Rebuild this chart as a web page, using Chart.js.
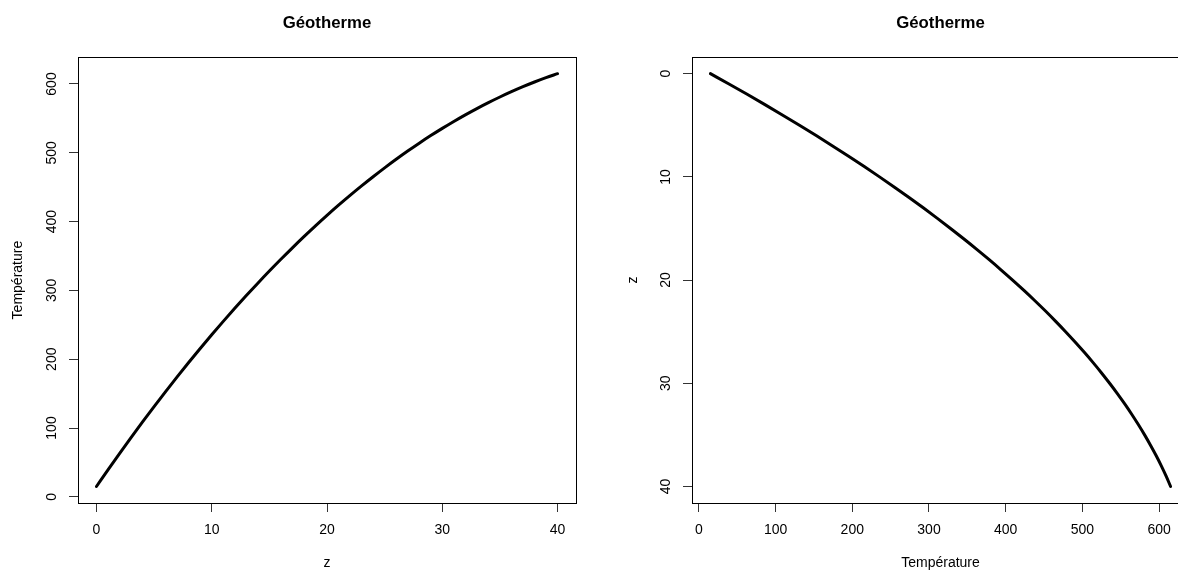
<!DOCTYPE html>
<html>
<head>
<meta charset="utf-8">
<title>Géotherme</title>
<script src="https://cdn.jsdelivr.net/npm/chart.js@4.4.0/dist/chart.umd.min.js"></script>
<style>
  html, body { margin: 0; padding: 0; background: #fff; overflow: hidden; }
  #wrap { position: relative; width: 1178px; height: 572px; overflow: hidden; background: #fff; }
  #wrap canvas { position: absolute; top: 0; }
  #geoLeft { left: 0; }
  #geoRight { left: 589px; }
</style>
</head>
<body>
<div id="wrap">
  <canvas id="geoLeft" width="589" height="572"></canvas>
  <canvas id="geoRight" width="620" height="572"></canvas>
</div>
<script>
// Geotherm: temperature (°C) against depth z (km), one value per km
const depthKm = [0, 1, 2, 3, 4, 5, 6, 7, 8, 9, 10, 11, 12, 13, 14, 15, 16, 17, 18, 19, 20,
                 21, 22, 23, 24, 25, 26, 27, 28, 29, 30, 31, 32, 33, 34, 35, 36, 37, 38, 39, 40];
const temperature = [15.0, 39.2, 62.9, 86.1, 108.8, 131.1, 152.9, 174.3, 195.2, 215.6, 235.5,
                     255.0, 274.0, 292.5, 310.5, 328.1, 345.2, 361.9, 378.1, 393.8, 409.0,
                     423.8, 438.1, 451.9, 465.2, 478.1, 490.5, 502.5, 514.0, 525.0, 535.5,
                     545.6, 555.2, 564.3, 572.9, 581.1, 588.8, 596.1, 602.9, 609.2, 615.0];

const depthTicks = [0, 10, 20, 30, 40];
const tempTicks = [0, 100, 200, 300, 400, 500, 600];

const titleText = 'Géotherme';
const depthLabel = 'z';
const tempLabel = 'Température';

const FONT = '"Liberation Sans", Arial, Helvetica, sans-serif';
Chart.defaults.font.family = FONT;
Chart.defaults.font.size = 14;
Chart.defaults.color = '#000';

// Full box around the plotting region
const frame = {
  id: 'frame',
  afterDatasetsDraw(chart) {
    const { ctx, chartArea: a } = chart;
    ctx.save();
    ctx.strokeStyle = '#000';
    ctx.lineWidth = 1;
    const l = Math.round(a.left) + 0.5, t = Math.round(a.top) + 0.5;
    ctx.strokeRect(l, t, Math.round(a.right) - Math.round(a.left), Math.round(a.bottom) - Math.round(a.top));
    ctx.restore();
  }
};

function xAxis(min, max, ticks, label) {
  return {
    type: 'linear', position: 'bottom', min, max,
    grid: { display: true, drawOnChartArea: false, drawTicks: true, tickLength: 9, color: '#333', lineWidth: 1 },
    border: { display: false },
    ticks: { maxRotation: 0, minRotation: 0, autoSkip: false, padding: 10, color: '#000', font: { size: 14 } },
    title: { display: true, text: label, color: '#000', font: { size: 14 }, padding: { top: 0, bottom: 0 } },
    afterBuildTicks: s => { s.ticks = ticks.map(v => ({ value: v })); },
    afterFit: s => { s.height = 69; }
  };
}

function yAxis(min, max, ticks, label, opts) {
  return {
    type: 'linear', position: 'left', min, max, reverse: !!opts.reverse,
    grid: { display: true, drawOnChartArea: false, drawTicks: true, tickLength: 9, color: '#333', lineWidth: 1 },
    border: { display: false },
    ticks: { minRotation: 90, maxRotation: 90, crossAlign: 'center', autoSkip: false, padding: opts.tickPad, color: '#000', font: { size: 14 } },
    title: { display: true, text: label, color: '#000', font: { size: 14 }, padding: { top: opts.titlePad, bottom: 0 } },
    afterBuildTicks: s => { s.ticks = ticks.map(v => ({ value: v })); },
    afterFit: s => { s.width = opts.width; }
  };
}

function lineSet(points) {
  return {
    data: points,
    showLine: true,
    borderColor: '#000',
    borderWidth: 3,
    pointRadius: 0,
    fill: false,
    cubicInterpolationMode: 'monotone',
    borderCapStyle: 'round',
    borderJoinStyle: 'round'
  };
}

function titleOpts() {
  return {
    display: true, text: titleText, fullSize: false, color: '#000',
    font: { size: 16.8, weight: 'bold' },
    padding: { top: 13, bottom: 24 }
  };
}

// Left panel: temperature as a function of depth
new Chart(document.getElementById('geoLeft'), {
  type: 'scatter',
  data: { datasets: [lineSet(depthKm.map((z, i) => ({ x: z, y: temperature[i] })))] },
  options: {
    responsive: false, animation: false, devicePixelRatio: 1,
    layout: { padding: { left: 0, right: 13, top: 0, bottom: 0 } },
    plugins: { legend: { display: false }, tooltip: { enabled: false }, title: titleOpts() },
    scales: {
      x: xAxis(-1.6, 41.6, depthTicks, depthLabel),
      y: yAxis(-9, 639, tempTicks, tempLabel, { width: 78, tickPad: 5, titlePad: 10 })
    }
  },
  plugins: [frame]
});

// Right panel: depth (downwards) against temperature
new Chart(document.getElementById('geoRight'), {
  type: 'scatter',
  data: { datasets: [lineSet(depthKm.map((z, i) => ({ x: temperature[i], y: z })))] },
  options: {
    responsive: false, animation: false, devicePixelRatio: 1,
    layout: { padding: { left: 0, right: 20, top: 0, bottom: 0 } },
    plugins: { legend: { display: false }, tooltip: { enabled: false }, title: titleOpts() },
    scales: {
      x: xAxis(-9, 639, tempTicks, tempLabel),
      y: yAxis(-1.6, 41.6, depthTicks, depthLabel, { width: 103, tickPad: 9, titlePad: 35.6, reverse: true })
    }
  },
  plugins: [frame]
});
</script>
</body>
</html>
